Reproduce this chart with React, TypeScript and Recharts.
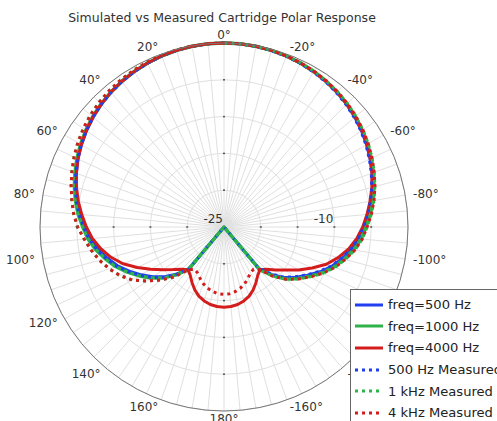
import React from 'react';
import {
  RadarChart,
  Radar,
  PolarGrid,
  PolarAngleAxis,
  PolarRadiusAxis,
  Legend,
} from 'recharts';

const CX = 224;
const CY = 227;
const OUTER = 184;
const FONT = '"DejaVu Sans", Verdana, sans-serif';

const BLUE = '#1f3ff0';
const GREEN = '#2db34a';
const RED = '#d41c1c';

// angle categories in degrees, 0 at top, counter-clockwise; >180 means negative
const angles = [
  0, 5, 10, 15, 20, 25, 30, 35, 40, 45, 50, 55, 60, 65, 70, 75, 80, 85, 90, 95, 100, 105, 110, 115,
  120, 125, 130, 135, 140, 145, 150, 155, 160, 165, 170, 175, 180, 185, 190, 195, 200, 205, 210, 215,
  220, 225, 230, 235, 240, 245, 250, 255, 260, 265, 270, 275, 280, 285, 290, 295, 300, 305, 310, 315,
  320, 325, 330, 335, 340, 345, 350, 355,
];

const radiusTicks = [-25, -20, -15, -10, -5, 0];
const shownRadiusLabels = [-25, -10];

// dB values, one per angle above
const sim500 = [
  0, -0.02, -0.07, -0.16, -0.28, -0.44, -0.63, -0.86, -1.13, -1.44, -1.8, -2.2, -2.65, -3.12, -3.65,
  -4.17, -4.75, -5.37, -6.08, -6.75, -7.6, -8.6, -9.6, -10.8, -12.0, -13.2, -14.5, -16.0, -17.6,
  -25, -25, -25, -25, -25, -25, -25, -25,
  -25, -25, -25, -25, -25, -25, -25,
  -17.6, -15.9, -14.3, -13.1, -11.9, -10.6, -9.4, -8.4, -7.4, -6.6, -5.95, -5.3, -4.7, -4.12, -3.6,
  -3.1, -2.63, -2.2, -1.8, -1.44, -1.13, -0.86, -0.63, -0.44, -0.28, -0.16, -0.07, -0.02,
];

const sim1000 = [
  0, -0.02, -0.07, -0.15, -0.27, -0.42, -0.6, -0.82, -1.08, -1.37, -1.7, -2.08, -2.5, -2.95, -3.45,
  -3.95, -4.5, -5.1, -5.8, -6.45, -7.3, -8.3, -9.3, -10.5, -11.7, -12.9, -14.2, -15.8, -17.5,
  -25, -25, -25, -25, -25, -25, -25, -25,
  -25, -25, -25, -25, -25, -25, -25,
  -17.5, -15.6, -14.0, -12.8, -11.6, -10.3, -9.1, -8.1, -7.1, -6.3, -5.7, -5.05, -4.45, -3.9, -3.4,
  -2.92, -2.48, -2.07, -1.7, -1.37, -1.08, -0.82, -0.6, -0.42, -0.27, -0.15, -0.07, -0.02,
];

const sim4000 = [
  0, -0.02, -0.07, -0.15, -0.27, -0.42, -0.6, -0.82, -1.08, -1.4, -1.75, -2.15, -2.6, -3.1, -3.65,
  -4.25, -4.9, -5.6, -6.3, -7.05, -8.0, -9.1, -10.4, -12.0, -13.5, -14.9, -16.0, -16.9, -17.4,
  -17.0, -16.3, -15.6, -15.0, -14.6, -14.3, -14.15, -14.1,
  -14.15, -14.3, -14.6, -15.0, -15.6, -16.3, -17.0,
  -17.4, -16.9, -15.9, -14.8, -13.3, -11.8, -10.2, -8.95, -7.8, -6.9, -6.15, -5.5, -4.85, -4.2, -3.6,
  -3.07, -2.58, -2.13, -1.74, -1.39, -1.08, -0.82, -0.6, -0.42, -0.27, -0.15, -0.07, -0.02,
];

const meas500 = [
  0, -0.02, -0.08, -0.16, -0.28, -0.44, -0.62, -0.85, -1.12, -1.42, -1.77, -2.16, -2.6, -3.05, -3.56,
  -4.07, -4.62, -5.22, -5.92, -6.58, -7.43, -8.44, -9.45, -10.65, -11.85, -13.05, -14.35, -15.95, -17.6,
  -25, -25, -25, -25, -25, -25, -25, -25,
  -25, -25, -25, -25, -25, -25, -25,
  -17.7, -16.0, -14.4, -13.2, -12.0, -10.7, -9.5, -8.5, -7.5, -6.7, -6.05, -5.4, -4.8, -4.22, -3.7,
  -3.2, -2.72, -2.28, -1.88, -1.52, -1.2, -0.92, -0.68, -0.48, -0.31, -0.18, -0.08, -0.02,
];

const meas1k = [
  0, 0, -0.04, -0.1, -0.18, -0.28, -0.42, -0.58, -0.78, -1.02, -1.32, -1.67, -2.07, -2.52, -3.0,
  -3.5, -4.0, -4.5, -5.1, -5.95, -6.7, -7.5, -8.4, -9.4, -10.6, -12.2, -13.8, -15.4, -17.5,
  -25, -25, -25, -25, -25, -25, -25, -25,
  -25, -25, -25, -25, -25, -25, -25,
  -17.3, -15.6, -14.0, -12.7, -11.45, -10.15, -8.95, -7.95, -6.95, -6.15, -5.55, -4.9, -4.3, -3.77, -3.28,
  -2.8, -2.36, -1.96, -1.6, -1.28, -1.0, -0.76, -0.55, -0.38, -0.24, -0.13, -0.06, -0.01,
];

const meas4k = [
  0, 0, -0.04, -0.1, -0.18, -0.28, -0.42, -0.58, -0.78, -1.02, -1.32, -1.67, -2.07, -2.52, -3.0,
  -3.5, -4.0, -4.5, -5.1, -5.95, -6.7, -7.5, -8.4, -9.4, -10.6, -12.2, -13.8, -15.4, -17.4,
  -18.0, -17.8, -17.3, -16.8, -16.4, -16.1, -15.9, -15.85,
  -15.9, -16.1, -16.4, -16.8, -17.3, -17.8, -18.0,
  -17.4, -15.5, -13.95, -12.7, -11.45, -10.15, -8.95, -7.95, -6.95, -6.15, -5.55, -4.9, -4.3, -3.77, -3.28,
  -2.8, -2.36, -1.96, -1.6, -1.28, -1.0, -0.76, -0.55, -0.38, -0.24, -0.13, -0.06, -0.01,
];

const series = [
  { key: 'sim500', name: 'freq=500 Hz', color: BLUE, dotted: false, width: 3 },
  { key: 'sim1000', name: 'freq=1000 Hz', color: GREEN, dotted: false, width: 3.5 },
  { key: 'sim4000', name: 'freq=4000 Hz', color: RED, dotted: false, width: 3 },
  { key: 'meas500', name: '500 Hz Measured', color: BLUE, dotted: true, width: 3 },
  { key: 'meas1k', name: '1 kHz Measured', color: GREEN, dotted: true, width: 3 },
  { key: 'meas4k', name: '4 kHz Measured', color: RED, dotted: true, width: 3 },
];

const data = angles.map((angle, i) => ({
  angle,
  sim500: sim500[i],
  sim1000: sim1000[i],
  sim4000: sim4000[i],
  meas500: meas500[i],
  meas1k: meas1k[i],
  meas4k: meas4k[i],
}));

function AngleTick(props: any) {
  const { x, y, payload, textAnchor } = props;
  const v = payload.value;
  if (v % 20 !== 0) return <g />;
  const label = v <= 180 ? `${v}°` : `${v - 360}°`;
  return (
    <text
      x={x}
      y={y}
      textAnchor={textAnchor}
      dominantBaseline="central"
      fontSize={12}
      fontFamily={FONT}
      fill="#333"
    >
      {label}
    </text>
  );
}

function RadiusTick(props: any) {
  const { x, payload } = props;
  const r = x - CX;
  const v = payload.value;
  const marks =
    r > 1 && r < OUTER - 1
      ? [
          [CX + r, CY],
          [CX - r, CY],
          [CX, CY - r],
          [CX, CY + r],
        ]
      : [];
  return (
    <g>
      {marks.map(([mx, my], i) => (
        <rect key={i} x={mx - 1} y={my - 0.75} width={2} height={1.5} fill="#555" />
      ))}
      {shownRadiusLabels.includes(v) && (
        <text
          x={x - 1}
          y={CY - 8}
          textAnchor="end"
          dominantBaseline="central"
          fontSize={12}
          fontFamily={FONT}
          fill="#333"
        >
          {v}
        </text>
      )}
    </g>
  );
}

function LegendBox() {
  return (
    <div
      style={{
        border: '1px solid #666',
        background: '#fff',
        padding: '4px 4px',
        fontFamily: FONT,
        fontSize: 13.1,
        color: '#222',
        width: 170,
        height: 140,
        boxSizing: 'border-box',
      }}
    >
      {series.map((s) => (
        <div key={s.key} style={{ display: 'flex', alignItems: 'center', height: 21.6 }}>
          <svg width={28} height={6} style={{ marginRight: 5, flex: 'none' }}>
            <line
              x1={0}
              y1={3}
              x2={28}
              y2={3}
              stroke={s.color}
              strokeWidth={3}
              strokeDasharray={s.dotted ? '3 4' : undefined}
            />
          </svg>
          <span style={{ whiteSpace: 'nowrap' }}>{s.name}</span>
        </div>
      ))}
    </div>
  );
}

export default function App() {
  return (
    <div
      style={{
        position: 'absolute',
        left: 0,
        top: 0,
        width: 497,
        height: 421,
        overflow: 'hidden',
        background: '#fff',
      }}
    >
      <div
        style={{
          position: 'absolute',
          left: 0,
          top: 10,
          width: 444,
          textAlign: 'center',
          fontFamily: FONT,
          fontSize: 12.5,
          lineHeight: '16px',
          color: '#333',
          zIndex: 2,
        }}
      >
        Simulated vs Measured Cartridge Polar Response
      </div>
      <RadarChart
        width={497}
        height={421}
        data={data}
        cx={CX}
        cy={CY}
        outerRadius={OUTER}
        startAngle={90}
        endAngle={450}
        margin={{ top: 0, right: 0, bottom: 0, left: 0 }}
      >
        <PolarGrid gridType="circle" stroke="#e0e0e0" strokeWidth={1} />
        <PolarAngleAxis
          dataKey="angle"
          type="number"
          domain={[0, 360]}
          ticks={angles as any}
          tick={(p: any) => <AngleTick {...p} />}
          tickLine={false}
          tickSize={8}
          axisLine={{ stroke: '#777', strokeWidth: 1 }}
          axisLineType="circle"
        />
        <PolarRadiusAxis
          angle={0}
          domain={[-25, 0]}
          ticks={radiusTicks as any}
          tickCount={6}
          axisLine={false}
          tick={(p: any) => <RadiusTick {...p} />}
        />
        {series.map((s) => (
          <Radar
            key={s.key}
            name={s.name}
            dataKey={s.key}
            stroke={s.color}
            strokeWidth={s.width}
            strokeDasharray={s.dotted ? '3 4' : undefined}
            strokeLinejoin="round"
            fill="none"
            fillOpacity={0}
            dot={false}
            isAnimationActive={false}
          />
        ))}
        <Legend
          content={() => <LegendBox />}
          wrapperStyle={{ left: 350, top: 289, width: 170, height: 140, zIndex: 5 }}
        />
      </RadarChart>
    </div>
  );
}
